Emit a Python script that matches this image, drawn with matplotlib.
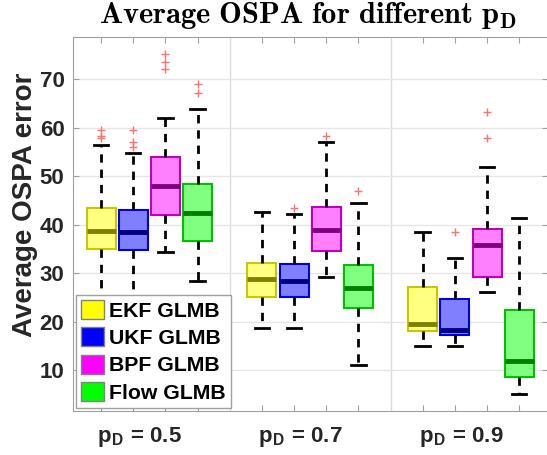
import matplotlib
matplotlib.use("Agg")
import matplotlib.pyplot as plt
from matplotlib.patches import Patch

plt.rcParams['mathtext.fontset'] = 'cm'

methods = ["EKF GLMB", "UKF GLMB", "BPF GLMB", "Flow GLMB"]
groups = ["0.5", "0.7", "0.9"]

# stats per group, per method: (lower whisker, q1, median, q3, upper whisker)
ekf_stats = [(25.4, 34.9, 38.7, 43.4, 56.4), (18.8, 25.1, 28.8, 32.2, 42.7), (15.0, 18.05, 19.5, 27.2, 38.5)]
ukf_stats = [(25.4, 34.8, 38.6, 43.0, 54.7), (18.8, 25.2, 28.4, 32.0, 42.3), (15.0, 17.3, 18.4, 24.7, 33.1)]
bpf_stats = [(34.4, 42.1, 48.0, 54.0, 62.0), (29.3, 34.6, 38.9, 43.7, 57.0), (26.1, 29.3, 35.8, 39.1, 52.0)]
flow_stats = [(28.4, 36.6, 42.5, 48.3, 63.8), (11.1, 22.8, 26.9, 31.8, 44.4), (5.2, 8.7, 12.0, 22.4, 41.3)]

ekf_out = [[59.5, 58.3, 57.8], [], []]
ukf_out = [[59.6, 57.1, 56.0], [43.5], [38.4]]
bpf_out = [[75.2, 73.5, 72.0], [58.2], [63.3, 57.8]]
flow_out = [[69.0, 67.1], [47.0], []]

all_stats = [ekf_stats, ukf_stats, bpf_stats, flow_stats]
all_out = [ekf_out, ukf_out, bpf_out, flow_out]

face_cols = ["#ffff80", "#8080ff", "#ff80ff", "#80ff80"]
edge_cols = ["#c8c800", "#0000e0", "#c000c0", "#00c000"]
med_cols = ["#808000", "#000080", "#800080", "#008000"]
leg_cols = ["#ffff00", "#0000ff", "#ff00ff", "#00ff00"]

fig = plt.figure(figsize=(5.47, 4.55), dpi=100)
ax = fig.add_axes([0.133, 0.0967, 0.868, 0.822])

for mi in range(4):
    for gi in range(3):
        lo, q1, med, q3, hi = all_stats[mi][gi]
        pos = gi * 5 + mi + 1
        st = [dict(whislo=lo, q1=q1, med=med, q3=q3, whishi=hi, fliers=all_out[mi][gi])]
        ax.bxp(st, positions=[pos], widths=0.9, capwidths=0.45, patch_artist=True,
               showfliers=True, manage_ticks=False,
               boxprops=dict(facecolor=face_cols[mi], edgecolor=edge_cols[mi], linewidth=1.5),
               medianprops=dict(color=med_cols[mi], linewidth=3.5, solid_capstyle='butt'),
               whiskerprops=dict(color='black', linewidth=2, linestyle=(0, (3, 2.5))),
               capprops=dict(color='black', linewidth=2),
               flierprops=dict(marker='+', markeredgecolor='#ff7070', markersize=6, markeredgewidth=1),
               zorder=3)

ax.set_xlim(0.12, 14.88)
ax.set_ylim(1.6, 78.7)
ax.set_yticks([10, 20, 30, 40, 50, 60, 70])
ax.set_yticklabels(["10", "20", "30", "40", "50", "60", "70"], fontsize=16, fontweight='bold',
                   color='#262626', family='Liberation Sans')
ax.set_xticks([p for g in range(3) for p in range(g * 5 + 1, g * 5 + 5)])
ax.set_xticklabels([])
ax.tick_params(axis='both', direction='in', top=True, right=True, length=4, color='#a0a0a0')
ax.tick_params(axis='y', pad=6)
ax.yaxis.grid(True, color='#e6e6e6', linewidth=1, zorder=0)
ax.set_axisbelow(True)
for x in [5, 10]:
    ax.axvline(x, color='#dcdcdc', linewidth=1, zorder=0)
for s in ax.spines.values():
    s.set_color('#a0a0a0')

for gi, g in enumerate(groups):
    ax.text(2.2 + gi * 5, -0.07, r"p$_\mathregular{D}$ = " + g, transform=ax.get_xaxis_transform(),
            ha='center', va='center', fontsize=16, fontweight='bold', color='#262626',
            family='Liberation Sans')

fig.text(25 / 547, 1 - 205 / 455, "Average OSPA error", rotation=90, ha='center', va='center',
         fontsize=20, fontweight='bold', family='Liberation Sans', color='#262626')
fig.text(0.564, 0.965, r"$\mathbf{Average\ OSPA\ for\ different\ p_D}$", ha='center', va='center',
         fontsize=22)

handles = [Patch(facecolor=c, edgecolor='#808080', linewidth=1) for c in leg_cols]
leg = ax.legend(handles, methods, loc='lower left', bbox_to_anchor=(0, 0), borderaxespad=0.15,
                prop=dict(family='Liberation Sans', weight='bold', size=15.3),
                handlelength=1.05, handleheight=1.0, handletextpad=0.25, labelspacing=0.3,
                borderpad=0.25, fancybox=False, edgecolor='#a0a0a0', framealpha=1)
leg.get_frame().set_linewidth(1)

fig.savefig("out.png", dpi=100)
